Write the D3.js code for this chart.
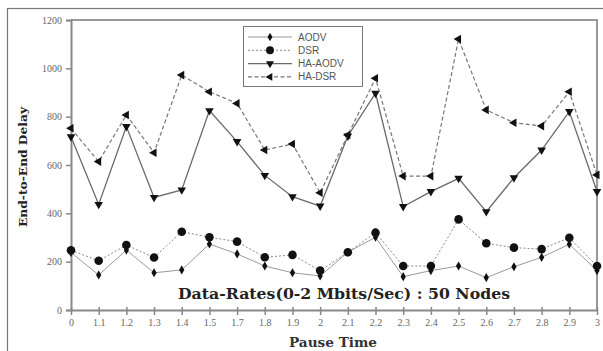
<!DOCTYPE html>
<html>
<head>
<meta charset="utf-8">
<script src="https://cdn.jsdelivr.net/npm/d3@7"></script>
<style>
  body { margin: 0; background: #fff; }
  svg { display: block; }
</style>
</head>
<body>
<div id="chart"></div>
<script>
const elem = "#chart"

const width = 603
const height = 351

// pause time categories (as printed on the axis)
const pauseTimes = ["0", "1.1", "1.2", "1.3", "1.4", "1.5", "1.7", "1.8", "1.9", "2",
  "2.1", "2.2", "2.3", "2.4", "2.5", "2.6", "2.7", "2.8", "2.9", "3"]

const aodv   = [238, 145, 248, 154, 166, 273, 232, 182, 154, 141, 239, 301, 138, 163, 182, 134, 179, 218, 272, 163]
const dsr    = [247, 204, 269, 217, 324, 301, 283, 218, 228, 163, 239, 320, 182, 182, 375, 276, 258, 252, 299, 182]
const haAodv = [717, 437, 759, 466, 497, 825, 697, 557, 469, 430, 720, 897, 428, 490, 545, 407, 547, 662, 821, 490]
const haDsr  = [752, 614, 807, 651, 972, 903, 855, 662, 687, 485, 724, 959, 554, 554, 1121, 828, 775, 761, 903, 559]

const yTicks = [0, 200, 400, 600, 800, 1000, 1200]

const series = [
  { name: "AODV", values: aodv, symbol: d3.symbolDiamond, size: 24, rotate: 0, stroke: "#9a9a9a", dash: null, sw: 1 },
  { name: "DSR", values: dsr, symbol: d3.symbolCircle, size: 58, rotate: 0, stroke: "#8a8a8a", dash: "2,2", sw: 1 },
  { name: "HA-AODV", values: haAodv, symbol: d3.symbolTriangle, size: 32, rotate: 180, stroke: "#6a6a6a", dash: null, sw: 1.3 },
  { name: "HA-DSR", values: haDsr, symbol: d3.symbolTriangle, size: 32, rotate: -90, stroke: "#777", dash: "4,2.5", sw: 1.2 }
]

const x = d3.scalePoint().domain(pauseTimes).range([71, 597])
const y = d3.scaleLinear().domain([0, 1200]).range([310, 20])

const svg = d3.select(elem)
  .append("svg")
  .attr("width", width)
  .attr("height", height)

// outer frame of the figure
svg.append("rect")
  .attr("x", 7.5).attr("y", 8.5)
  .attr("width", 620).attr("height", 360)
  .attr("fill", "none")
  .attr("stroke", "#777")
  .attr("stroke-width", 1.2)

// plot frame (top and right)
svg.append("path")
  .attr("d", `M71,20H597V310`)
  .attr("fill", "none")
  .attr("stroke", "#999")
  .attr("stroke-width", 2)

const axisFont = "'Liberation Serif', 'Times New Roman', serif"

const yAxis = svg.append("g")
  .attr("transform", "translate(71,0)")
  .call(d3.axisLeft(y).tickValues(yTicks).tickSize(5).tickPadding(4).tickFormat(d3.format("d")))
yAxis.select(".domain").attr("stroke", "#888").attr("stroke-width", 2)
yAxis.selectAll(".tick line").attr("stroke", "#888").attr("stroke-width", 1.5)
yAxis.selectAll(".tick text")
  .attr("font-family", axisFont).attr("font-size", 10).attr("fill", "#666")

const xAxis = svg.append("g")
  .attr("transform", "translate(0,310)")
  .call(d3.axisBottom(x).tickSize(5).tickPadding(4).tickSizeOuter(0))
xAxis.select(".domain").attr("stroke", "#888").attr("stroke-width", 2)
xAxis.selectAll(".tick line").attr("stroke", "#888").attr("stroke-width", 1.5).attr("y1", -3)
xAxis.selectAll(".tick text")
  .attr("font-family", axisFont).attr("font-size", 10).attr("fill", "#666")

const line = d3.line()
  .x((d, i) => x(pauseTimes[i]))
  .y(d => y(d))

series.forEach(s => {
  svg.append("path")
    .datum(s.values)
    .attr("d", line)
    .attr("fill", "none")
    .attr("stroke", s.stroke)
    .attr("stroke-width", s.sw)
    .attr("stroke-dasharray", s.dash)

  svg.append("g")
    .selectAll("path")
    .data(s.values)
    .join("path")
    .attr("d", d3.symbol(s.symbol, s.size))
    .attr("transform", (d, i) => `translate(${x(pauseTimes[i])},${y(d)}) rotate(${s.rotate})`)
    .attr("fill", "#111")
})

// legend
const legend = svg.append("g")
legend.append("rect")
  .attr("x", 243.5).attr("y", 26.5)
  .attr("width", 119).attr("height", 60)
  .attr("fill", "#fff")
  .attr("stroke", "#777")
  .attr("stroke-width", 1)

series.forEach((s, i) => {
  const ly = 37 + i * 13.3
  legend.append("line")
    .attr("x1", 248).attr("x2", 292)
    .attr("y1", ly).attr("y2", ly)
    .attr("stroke", s.stroke)
    .attr("stroke-width", s.sw)
    .attr("stroke-dasharray", s.dash)
  legend.append("path")
    .attr("d", d3.symbol(s.symbol, s.size * 0.85))
    .attr("transform", `translate(270,${ly}) rotate(${s.rotate})`)
    .attr("fill", "#111")
  legend.append("text")
    .attr("x", 298).attr("y", ly + 3.5)
    .attr("font-family", "'Liberation Sans', Arial, sans-serif")
    .attr("font-size", 10)
    .attr("fill", "#555")
    .text(s.name)
})

// titles
svg.append("text")
  .attr("x", 344).attr("y", 299)
  .attr("text-anchor", "middle")
  .attr("font-family", "'DejaVu Serif', serif")
  .attr("font-weight", "bold")
  .attr("font-size", 15)
  .attr("fill", "#222")
  .attr("textLength", 332)
  .attr("lengthAdjust", "spacingAndGlyphs")
  .text("Data-Rates(0-2 Mbits/Sec) : 50 Nodes")

svg.append("text")
  .attr("x", 333).attr("y", 347)
  .attr("text-anchor", "middle")
  .attr("font-family", "'DejaVu Serif', serif")
  .attr("font-weight", "bold")
  .attr("font-size", 12)
  .attr("fill", "#333")
  .attr("textLength", 88)
  .attr("lengthAdjust", "spacingAndGlyphs")
  .text("Pause Time")

svg.append("text")
  .attr("transform", "translate(27,167) rotate(-90)")
  .attr("text-anchor", "middle")
  .attr("font-family", "'DejaVu Serif', serif")
  .attr("font-weight", "bold")
  .attr("font-size", 11)
  .attr("fill", "#222")
  .attr("textLength", 120)
  .attr("lengthAdjust", "spacingAndGlyphs")
  .text("End-to-End Delay")
</script>
</body>
</html>
